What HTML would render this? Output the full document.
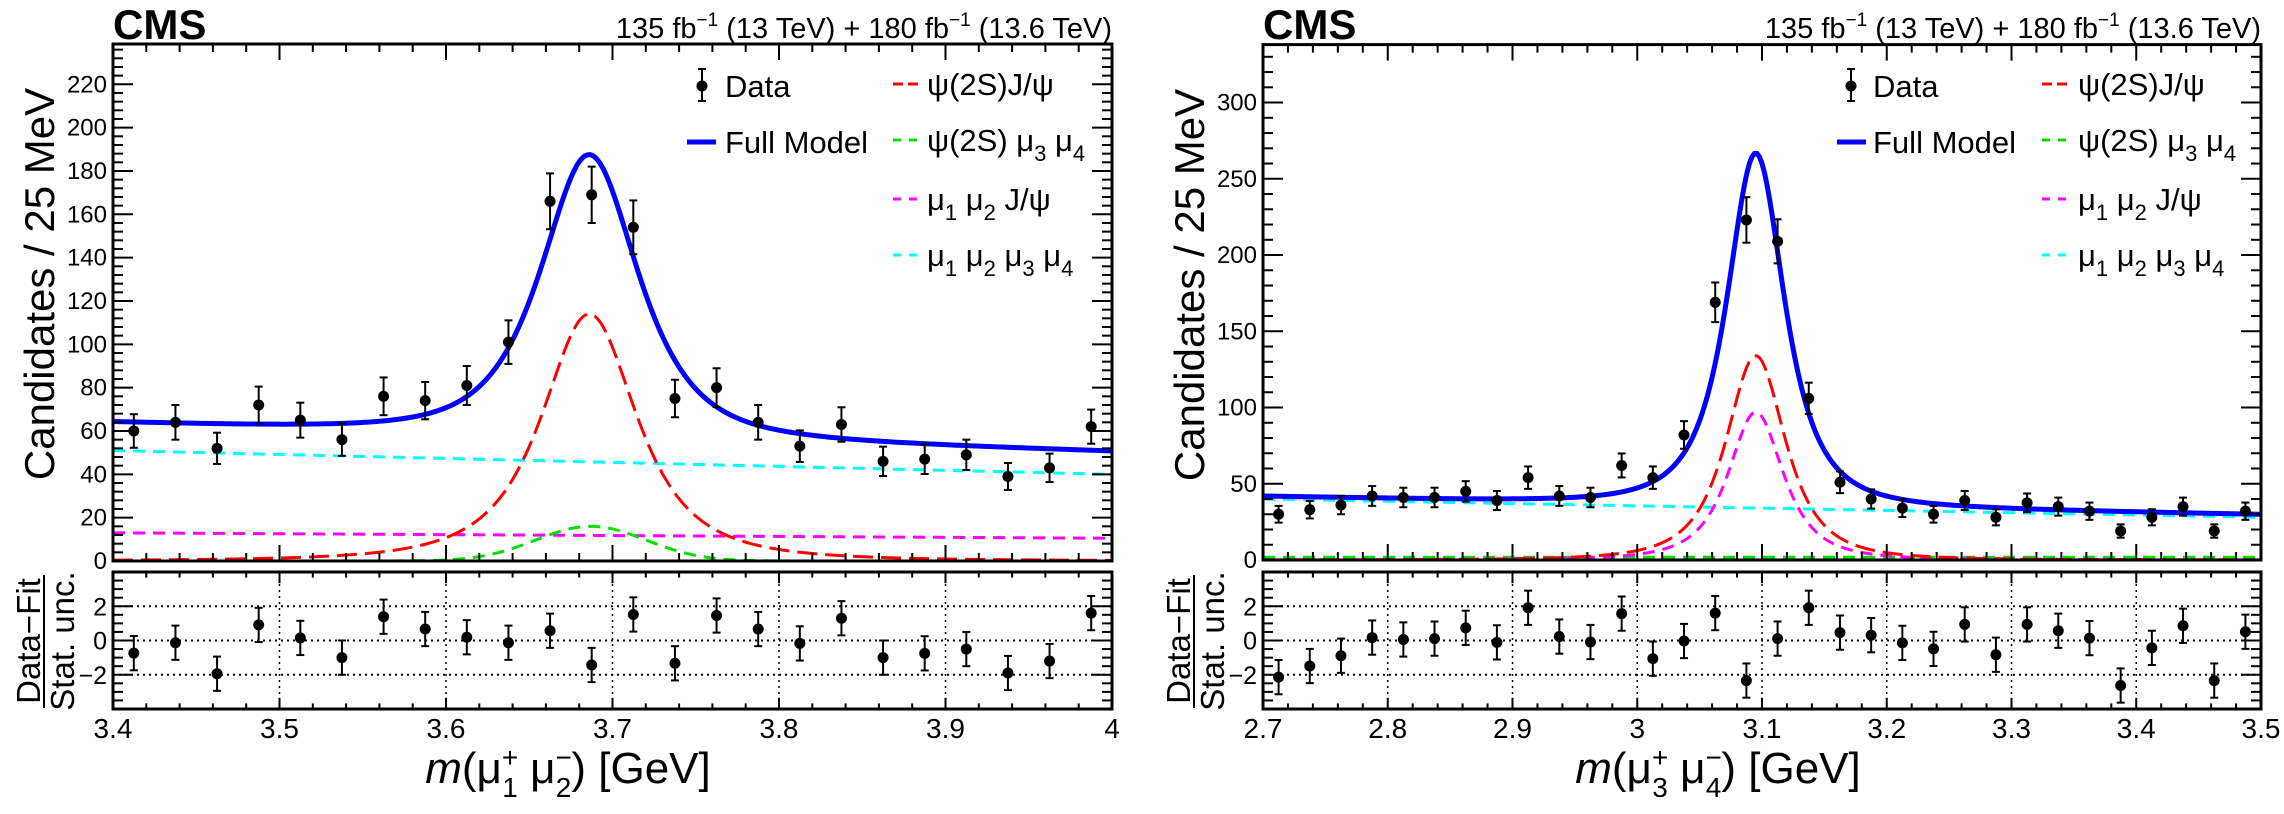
<!DOCTYPE html>
<html><head><meta charset="utf-8"><style>
html,body{margin:0;padding:0;background:#fff;}
svg{display:block;font-family:"Liberation Sans",sans-serif;}
</style></head><body>
<svg id="fig" width="2284" height="814" viewBox="0 0 2284 814" xmlns="http://www.w3.org/2000/svg"></svg>
<script>
// ---------- Left panel data ----------
const leftCenters = [3.4125,3.4375,3.4625,3.4875,3.5125,3.5375,3.5625,3.5875,3.6125,3.6375,3.6625,3.6875,3.7125,3.7375,3.7625,3.7875,3.8125,3.8375,3.8625,3.8875,3.9125,3.9375,3.9625,3.9875];
const leftCounts = [60,64,52,72,65,56,76,74,81,101,166,169,154,75,80,64,53,63,46,47,49,39,43,62];
const leftPulls = [-0.74,-0.13,-1.94,0.91,0.15,-1.0,1.39,0.67,0.19,-0.13,0.57,-1.43,1.52,-1.33,1.46,0.67,-0.17,1.3,-1.0,-0.75,-0.5,-1.9,-1.2,1.6];
const leftXTicks = [3.4,3.5,3.6,3.7,3.8,3.9,4];
const leftXTickLabels = ["3.4","3.5","3.6","3.7","3.8","3.9","4"];
const leftYTicks = [0,20,40,60,80,100,120,140,160,180,200,220];
// component model parameters (left): [peak, mean, width]
const leftSignalRed = [114,3.686,0.044];
const leftSignalGreen = [16,3.687,0.033];
const leftBkgMagenta = [13,10.5];
const leftBkgCyan = [51,40];

// ---------- Right panel data ----------
const rightCenters = [2.7125,2.7375,2.7625,2.7875,2.8125,2.8375,2.8625,2.8875,2.9125,2.9375,2.9625,2.9875,3.0125,3.0375,3.0625,3.0875,3.1125,3.1375,3.1625,3.1875,3.2125,3.2375,3.2625,3.2875,3.3125,3.3375,3.3625,3.3875,3.4125,3.4375,3.4625,3.4875];
const rightCounts = [30,33,36,42,41,41,45,39,54,42,41,62,54,82,169,223,209,106,51,40,34,30,39,28,37.5,35,32,19,28,35,19,32];
const rightPulls = [-2.14,-1.49,-0.89,0.17,0.06,0.11,0.74,-0.11,1.91,0.23,-0.09,1.57,-1.06,-0.03,1.6,-2.34,0.11,1.91,0.46,0.31,-0.14,-0.49,0.94,-0.83,0.94,0.57,0.14,-2.63,-0.43,0.86,-2.34,0.51];
const rightXTicks = [2.7,2.8,2.9,3.0,3.1,3.2,3.3,3.4,3.5];
const rightXTickLabels = ["2.7","2.8","2.9","3","3.1","3.2","3.3","3.4","3.5"];
const rightYTicks = [0,50,100,150,200,250,300];
const rightSignalRed = [134,3.095,0.0366];
const rightSignalMagenta = [97,3.095,0.034];
const rightBkgGreen = [1.8,1.8];
const rightBkgCyan = [40,28];

const ratioYTicks = [-2,0,2];

const NS = "http://www.w3.org/2000/svg";
const svg = document.getElementById('fig');
function el(tag, attrs, parent){
  const e = document.createElementNS(NS, tag);
  for (const k in attrs) e.setAttribute(k, attrs[k]);
  (parent||svg).appendChild(e);
  return e;
}
function peakShape(p, x){ const u=(x-p[1])/p[2]; return p[0]*Math.pow(1+u*u,-1.5); }
function gaussShape(p, x){ const u=(x-p[1])/p[2]; return p[0]*Math.exp(-0.5*u*u); }
function lin(p, x, x0, x1){ return p[0]+(p[1]-p[0])*(x-x0)/(x1-x0); }

function drawPanel(cfg){
  const g = el('g', {});
  
  
  const X0=cfg.X0, X1=cfg.X1, MT=cfg.mainTop, MB=cfg.mainBot, RT=572, RB=709;
  const sx = v => X0 + (v-cfg.xmin)/(cfg.xmax-cfg.xmin)*(X1-X0);
  const sy = v => MB - v/cfg.ymax*(MB-MT);
  const ry = v => RT + (4-v)/8*(RB-RT);

  // curves
  const clip = el('clipPath', {id:cfg.name+'-clip'}, g);
  el('rect', {x:X0, y:MT, width:X1-X0, height:MB-MT}, clip);
  const cg = el('g', {'clip-path':'url(#'+cfg.name+'-clip)'}, g);
  
  
  cfg.components.forEach(c=>{
    let d='';
    for(let i=0;i<=400;i++){
      const x=cfg.xmin+(cfg.xmax-cfg.xmin)*i/400;
      d+=(i?'L':'M')+sx(x).toFixed(2)+' '+sy(c.f(x)).toFixed(2);
    }
    const p = el('path',{d:d,fill:'none',stroke:c.color,'stroke-width':c.w,'stroke-dasharray':c.dash||'none'},cg);
    
    
  });

  // data points
  const dg = el('g', {}, g);
  
  
  cfg.centers.forEach((x,i)=>{
    const v=cfg.counts[i], e=Math.sqrt(v);
    const cx=sx(x);
    el('line',{x1:cx,x2:cx,y1:sy(v-e),y2:sy(v+e),stroke:'#000','stroke-width':2},dg);
    el('line',{x1:cx-4,x2:cx+4,y1:sy(v-e),y2:sy(v-e),stroke:'#000','stroke-width':2},dg);
    el('line',{x1:cx-4,x2:cx+4,y1:sy(v+e),y2:sy(v+e),stroke:'#000','stroke-width':2},dg);
    const c = el('circle',{cx:cx,cy:sy(v),r:5.5,fill:'#000'},dg);
    
    
  });

  // main frame
  const fr = el('rect',{x:X0,y:MT,width:X1-X0,height:MB-MT,fill:'none',stroke:'#000','stroke-width':3},g);
  
  
  // main y ticks
  for(let v=0; v<=cfg.ymax+1e-6; v+=cfg.yminor){
    const major = Math.abs(v/cfg.ymajor-Math.round(v/cfg.ymajor))<1e-6;
    const L = major?20:10, y=sy(v);
    el('line',{x1:X0,x2:X0+L,y1:y,y2:y,stroke:'#000','stroke-width':2},g);
    el('line',{x1:X1,x2:X1-L,y1:y,y2:y,stroke:'#000','stroke-width':2},g);
  }
  cfg.yTicks.forEach(v=>{
    const t=el('text',{x:X0-6,y:sy(v)+8,'font-size':24,'text-anchor':'end'},g);
    t.textContent=String(v);
    
    
  });
  // x ticks (main + ratio)
  const nmin = Math.round((cfg.xmax-cfg.xmin)/0.02);
  for(let i=0;i<=nmin;i++){
    const x=cfg.xmin+i*0.02, major=(i%5===0), px=sx(x);
    const L=major?16:8;
    el('line',{x1:px,x2:px,y1:MB,y2:MB-L,stroke:'#000','stroke-width':2},g);
    el('line',{x1:px,x2:px,y1:MT,y2:MT+L,stroke:'#000','stroke-width':2},g);
    el('line',{x1:px,x2:px,y1:RB,y2:RB-L*0.7,stroke:'#000','stroke-width':2},g);
    el('line',{x1:px,x2:px,y1:RT,y2:RT+L*0.7,stroke:'#000','stroke-width':2},g);
  }
  // ratio grid
  cfg.xTicks.forEach(x=>{
    const px=sx(x);
    if(px>X0+2 && px<X1-2) el('line',{x1:px,x2:px,y1:RT,y2:RB,stroke:'#000','stroke-width':1.5,'stroke-dasharray':'2 4'},g);
  });
  ratioYTicks.forEach(v=>{
    el('line',{x1:X0,x2:X1,y1:ry(v),y2:ry(v),stroke:'#000','stroke-width':2,'stroke-dasharray':'2 4'},g);
  });
  // ratio points
  const rg = el('g',{},g);
  
  
  cfg.centers.forEach((x,i)=>{
    const v=cfg.pulls[i], cx=sx(x);
    el('line',{x1:cx,x2:cx,y1:ry(v-1),y2:ry(v+1),stroke:'#000','stroke-width':2},rg);
    el('line',{x1:cx-4,x2:cx+4,y1:ry(v-1),y2:ry(v-1),stroke:'#000','stroke-width':2},rg);
    el('line',{x1:cx-4,x2:cx+4,y1:ry(v+1),y2:ry(v+1),stroke:'#000','stroke-width':2},rg);
    const c=el('circle',{cx:cx,cy:ry(v),r:5.5,fill:'#000'},rg);
    
    
  });
  const rf = el('rect',{x:X0,y:RT,width:X1-X0,height:RB-RT,fill:'none',stroke:'#000','stroke-width':3},g);
  
  
  for(let v=-4; v<=4.001; v+=0.5){
    const major = Math.abs(v/2-Math.round(v/2))<1e-6;
    const L=major?20:10;
    el('line',{x1:X0,x2:X0+L,y1:ry(v),y2:ry(v),stroke:'#000','stroke-width':2},g);
    el('line',{x1:X1,x2:X1-L,y1:ry(v),y2:ry(v),stroke:'#000','stroke-width':2},g);
  }
  ratioYTicks.forEach(v=>{
    const t=el('text',{x:X0-6,y:ry(v)+9,'font-size':25,'text-anchor':'end'},g);
    t.textContent = v<0 ? '\u2212'+Math.abs(v) : String(v);
    
    
  });
  cfg.xTicks.forEach((x,i)=>{
    const t=el('text',{x:sx(x),y:738,'font-size':28,'text-anchor':'middle'},g);
    t.textContent=cfg.xTickLabels[i];
    
    
  });
}

drawPanel({name:'left-panel',X0:113,X1:1112,mainTop:44,mainBot:561,xmin:3.4,xmax:4.0,ymax:238.6,ymajor:20,yminor:4,
  yTicks:leftYTicks,xTicks:leftXTicks,xTickLabels:leftXTickLabels,
  centers:leftCenters,counts:leftCounts,pulls:leftPulls,
  components:[
    {id:'cyan-bkg',color:'#00ffff',w:3,dash:'12 8',f:x=>lin(leftBkgCyan,x,3.4,4.0)},
    {id:'magenta-bkg',color:'#ff00ff',w:3,dash:'12 8',f:x=>lin(leftBkgMagenta,x,3.4,4.0)},
    {id:'green-component',color:'#00e000',w:3,dash:'12 8',f:x=>gaussShape(leftSignalGreen,x)},
    {id:'red-component',color:'#ff0000',w:3,dash:'20 8',f:x=>peakShape(leftSignalRed,x)},
    {id:'full-model',color:'#0000ff',w:5,f:x=>peakShape(leftSignalRed,x)+gaussShape(leftSignalGreen,x)+lin(leftBkgMagenta,x,3.4,4.0)+lin(leftBkgCyan,x,3.4,4.0)}
  ]});
drawPanel({name:'right-panel',X0:1263,X1:2261,mainTop:44.6,mainBot:560,xmin:2.7,xmax:3.5,ymax:338,ymajor:50,yminor:10,
  yTicks:rightYTicks,xTicks:rightXTicks,xTickLabels:rightXTickLabels,
  centers:rightCenters,counts:rightCounts,pulls:rightPulls,
  components:[
    {id:'cyan-bkg',color:'#00ffff',w:3,dash:'12 8',f:x=>lin(rightBkgCyan,x,2.7,3.5)},
    {id:'green-component',color:'#00e000',w:3,dash:'12 8',f:x=>lin(rightBkgGreen,x,2.7,3.5)},
    {id:'magenta-component',color:'#ff00ff',w:3,dash:'12 8',f:x=>peakShape(rightSignalMagenta,x)},
    {id:'red-component',color:'#ff0000',w:3,dash:'20 8',f:x=>peakShape(rightSignalRed,x)},
    {id:'full-model',color:'#0000ff',w:5,f:x=>peakShape(rightSignalRed,x)+peakShape(rightSignalMagenta,x)+lin(rightBkgGreen,x,2.7,3.5)+lin(rightBkgCyan,x,2.7,3.5)}
  ]});
</script>
<svg width="2284" height="814" viewBox="0 0 2284 814" style="position:absolute;left:0;top:0;font-family:'Liberation Sans',sans-serif">
  <!-- Left panel texts -->
  <text x="113" y="39" font-size="42" font-weight="bold">CMS</text>
  <text x="1112" y="38" font-size="29" text-anchor="end">135 fb<tspan dy="-12" font-size="19">−1</tspan><tspan dy="12"> (13 TeV) + 180 fb</tspan><tspan dy="-12" font-size="19">−1</tspan><tspan dy="12"> (13.6 TeV)</tspan></text>
  <text transform="translate(54,284) rotate(-90)" font-size="42" text-anchor="middle">Candidates / 25 MeV</text>
  <text transform="translate(40,641) rotate(-90)" font-size="33" text-anchor="middle">Data−Fit</text>
  <line x1="44" x2="44" y1="575" y2="708" stroke="#000" stroke-width="2"/>
  <text transform="translate(74,641) rotate(-90)" font-size="33" text-anchor="middle">Stat. unc.</text>
  <text x="568" y="783" font-size="44" text-anchor="middle"><tspan font-style="italic">m</tspan>(μ<tspan dy="-16" font-size="28">+</tspan><tspan dx="-16" dy="30" font-size="28">1</tspan><tspan dy="-14"> μ</tspan><tspan dy="-16" font-size="28">−</tspan><tspan dx="-16" dy="30" font-size="28">2</tspan><tspan dy="-14">) [GeV]</tspan></text>
  <!-- left legend -->
  <g>
    <g>
      <line x1="702" x2="702" y1="69" y2="101" stroke="#000" stroke-width="2"/><line x1="698" x2="706" y1="69" y2="69" stroke="#000" stroke-width="2"/><line x1="698" x2="706" y1="101" y2="101" stroke="#000" stroke-width="2"/>
      <circle cx="702" cy="86" r="5.5" fill="#000"/>
      <text x="725" y="97" font-size="31">Data</text>
    </g>
    <g>
      <line x1="687" x2="716" y1="142" y2="142" stroke="#0000ff" stroke-width="5"/>
      <text x="725" y="153" font-size="31">Full Model</text>
    </g>
    <g>
      <line x1="893" x2="920" y1="84" y2="84" stroke="#ff0000" stroke-width="3" stroke-dasharray="10 5"/>
      <text x="927" y="95" font-size="31">ψ(2S)J/ψ</text>
    </g>
    <g>
      <line x1="893" x2="920" y1="140" y2="140" stroke="#00e000" stroke-width="3" stroke-dasharray="8 8"/>
      <text x="927" y="151" font-size="31">ψ(2S) μ<tspan dy="10" font-size="22">3</tspan><tspan dy="-10"> μ</tspan><tspan dy="10" font-size="22">4</tspan></text>
    </g>
    <g>
      <line x1="893" x2="920" y1="199" y2="199" stroke="#ff00ff" stroke-width="3" stroke-dasharray="8 8"/>
      <text x="927" y="210" font-size="31">μ<tspan dy="10" font-size="22">1</tspan><tspan dy="-10"> μ</tspan><tspan dy="10" font-size="22">2</tspan><tspan dy="-10"> J/ψ</tspan></text>
    </g>
    <g>
      <line x1="893" x2="920" y1="255" y2="255" stroke="#00ffff" stroke-width="3" stroke-dasharray="8 8"/>
      <text x="927" y="266" font-size="31">μ<tspan dy="10" font-size="22">1</tspan><tspan dy="-10"> μ</tspan><tspan dy="10" font-size="22">2</tspan><tspan dy="-10"> μ</tspan><tspan dy="10" font-size="22">3</tspan><tspan dy="-10"> μ</tspan><tspan dy="10" font-size="22">4</tspan></text>
    </g>
  </g>

  <!-- Right panel texts -->
  <text x="1263" y="39" font-size="42" font-weight="bold">CMS</text>
  <text x="2261" y="38" font-size="29" text-anchor="end">135 fb<tspan dy="-12" font-size="19">−1</tspan><tspan dy="12"> (13 TeV) + 180 fb</tspan><tspan dy="-12" font-size="19">−1</tspan><tspan dy="12"> (13.6 TeV)</tspan></text>
  <text transform="translate(1204,285) rotate(-90)" font-size="42" text-anchor="middle">Candidates / 25 MeV</text>
  <text transform="translate(1190,641) rotate(-90)" font-size="33" text-anchor="middle">Data−Fit</text>
  <line x1="1194" x2="1194" y1="575" y2="708" stroke="#000" stroke-width="2"/>
  <text transform="translate(1224,641) rotate(-90)" font-size="33" text-anchor="middle">Stat. unc.</text>
  <text x="1718" y="783" font-size="44" text-anchor="middle"><tspan font-style="italic">m</tspan>(μ<tspan dy="-16" font-size="28">+</tspan><tspan dx="-16" dy="30" font-size="28">3</tspan><tspan dy="-14"> μ</tspan><tspan dy="-16" font-size="28">−</tspan><tspan dx="-16" dy="30" font-size="28">4</tspan><tspan dy="-14">) [GeV]</tspan></text>
  <g>
    <g>
      <line x1="1851" x2="1851" y1="69" y2="101" stroke="#000" stroke-width="2"/><line x1="1847" x2="1855" y1="69" y2="69" stroke="#000" stroke-width="2"/><line x1="1847" x2="1855" y1="101" y2="101" stroke="#000" stroke-width="2"/>
      <circle cx="1851" cy="86" r="5.5" fill="#000"/>
      <text x="1873" y="97" font-size="31">Data</text>
    </g>
    <g>
      <line x1="1837" x2="1866" y1="142" y2="142" stroke="#0000ff" stroke-width="5"/>
      <text x="1873" y="153" font-size="31">Full Model</text>
    </g>
    <g>
      <line x1="2042" x2="2072" y1="84" y2="84" stroke="#ff0000" stroke-width="3" stroke-dasharray="10 5"/>
      <text x="2078" y="95" font-size="31">ψ(2S)J/ψ</text>
    </g>
    <g>
      <line x1="2042" x2="2072" y1="140" y2="140" stroke="#00e000" stroke-width="3" stroke-dasharray="8 8"/>
      <text x="2078" y="151" font-size="31">ψ(2S) μ<tspan dy="10" font-size="22">3</tspan><tspan dy="-10"> μ</tspan><tspan dy="10" font-size="22">4</tspan></text>
    </g>
    <g>
      <line x1="2042" x2="2072" y1="199" y2="199" stroke="#ff00ff" stroke-width="3" stroke-dasharray="8 8"/>
      <text x="2078" y="210" font-size="31">μ<tspan dy="10" font-size="22">1</tspan><tspan dy="-10"> μ</tspan><tspan dy="10" font-size="22">2</tspan><tspan dy="-10"> J/ψ</tspan></text>
    </g>
    <g>
      <line x1="2042" x2="2072" y1="255" y2="255" stroke="#00ffff" stroke-width="3" stroke-dasharray="8 8"/>
      <text x="2078" y="266" font-size="31">μ<tspan dy="10" font-size="22">1</tspan><tspan dy="-10"> μ</tspan><tspan dy="10" font-size="22">2</tspan><tspan dy="-10"> μ</tspan><tspan dy="10" font-size="22">3</tspan><tspan dy="-10"> μ</tspan><tspan dy="10" font-size="22">4</tspan></text>
    </g>
  </g>
</svg>
</body></html>
